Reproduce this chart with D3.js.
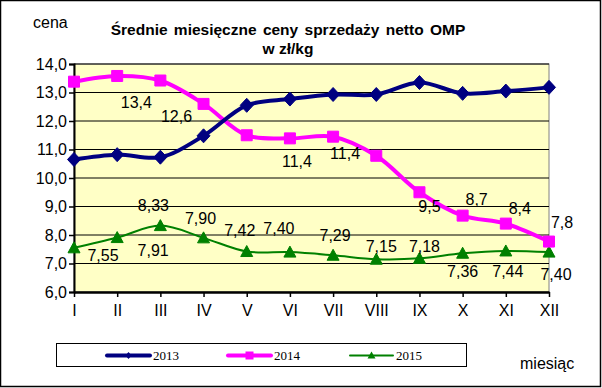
<!DOCTYPE html>
<html><head><meta charset="utf-8">
<script src="https://cdn.jsdelivr.net/npm/d3@7"></script>
<style>
html,body{margin:0;padding:0;background:#fff;}
svg{display:block;}
text{font-family:Arial,"Liberation Sans",sans-serif;}
text.serif{font-family:"Liberation Serif","Times New Roman",serif;}
</style></head>
<body><svg id="c" width="602" height="388"></svg>
<script>
const months = ["I","II","III","IV","V","VI","VII","VIII","IX","X","XI","XII"];
const s2013 = [10.65,10.82,10.73,11.48,12.55,12.77,12.93,12.93,13.35,12.97,13.05,13.18];
const s2014 = [13.38,13.58,13.42,12.6,11.5,11.39,11.45,10.78,9.5,8.68,8.4,7.77];
const s2015 = [7.55,7.91,8.33,7.90,7.42,7.40,7.29,7.15,7.18,7.36,7.44,7.40];
const lab2014 = ["","","13,4","12,6","","11,4","11,4","","9,5","8,7","8,4","7,8"];
const lab2015 = ["7,55","7,91","8,33","7,90","7,42","7,40","7,29","7,15","7,18","7,36","7,44","7,40"];
const yTicks = [6,7,8,9,10,11,12,13,14];
const seriesNames = ["2013","2014","2015"];

// label placement offsets (dx, dy) relative to point
const off2014 = [[0,0],[0,0],[-24,22],[-27,12],[0,0],[7,23],[12,17],[0,0],[10,14],[14,-16],[14,-15],[13,-19]];
const off2015 = [[29,7],[36,13],[-7,-20],[-3,-20],[-7,-21],[-11,-24],[2,-20],[5,-13],[5,-12],[0,18],[2,20],[7,22]];

const svg = d3.select("#c");
svg.append("rect").attr("x",0.5).attr("y",0.5).attr("width",600).attr("height",386)
  .attr("fill","#fff").attr("stroke","#000").attr("stroke-width",1.5);

const L=74, R=549, T=64, B=292;
const x = d3.scalePoint().domain(months).range([L,R]);
const y = d3.scaleLinear().domain([6,14]).range([B,T]);

svg.append("rect").attr("x",L).attr("y",T).attr("width",R-L).attr("height",B-T)
  .attr("fill","#FFFFC6").attr("stroke","#808080").attr("stroke-width",1);

// gridlines
svg.append("g").selectAll("line").data(yTicks.filter(d=>d>6)).join("line")
  .attr("x1",L).attr("x2",R).attr("y1",d=>y(d)).attr("y2",d=>y(d))
  .attr("stroke","#000").attr("stroke-width",1);

// y axis
const ya = svg.append("g").attr("transform",`translate(${L},0)`)
  .call(d3.axisLeft(y).tickValues(yTicks).tickSize(5).tickFormat(d=>d3.format(".1f")(d).replace(".",",")));
ya.select(".domain").attr("stroke","#000").attr("stroke-width",2);
ya.selectAll(".tick line").attr("stroke","#000").attr("stroke-width",1.5);
ya.selectAll(".tick text").attr("font-size",16).attr("fill","#000").attr("x",-7);

// x axis
const xa = svg.append("g").attr("transform",`translate(0,${B})`)
  .call(d3.axisBottom(x).tickSize(5).tickSizeOuter(0));
xa.select(".domain").attr("stroke","#000").attr("stroke-width",2.5);
xa.selectAll(".tick line").attr("stroke","#000").attr("stroke-width",1.5);
xa.selectAll(".tick text").attr("font-size",16).attr("fill","#000").attr("y",13);

const line = d3.line().x((d,i)=>x(months[i])).y(d=>y(d)).curve(d3.curveCatmullRom.alpha(0.5));

const diamond = "M0,-7L6.5,0L0,7L-6.5,0Z";
const square = "M-5.5,-5.5H5.5V5.5H-5.5Z";
const tri = "M0,-6L6,5H-6Z";

function drawSeries(vals,color,w,shape){
  svg.append("path").datum(vals).attr("d",line).attr("fill","none").attr("stroke",color).attr("stroke-width",w);
  svg.append("g").selectAll("path").data(vals).join("path")
    .attr("transform",(d,i)=>`translate(${x(months[i])},${y(d)})`)
    .attr("d",shape).attr("fill",color).attr("stroke",color).attr("stroke-width",1);
}
drawSeries(s2015,"#008000",2,tri);
drawSeries(s2014,"#FF00FF",4,square);
drawSeries(s2013,"#000080",4,diamond);

function labels(vals,labs,offs){
  svg.append("g").selectAll("text").data(vals).join("text")
    .attr("x",(d,i)=>x(months[i])+offs[i][0]).attr("y",(d,i)=>y(d)+offs[i][1])
    .attr("dy","0.36em").attr("text-anchor","middle").attr("font-size",16).attr("fill","#000")
    .text((d,i)=>labs[i]);
}
labels(s2014,lab2014,off2014);
labels(s2015,lab2015,off2015);

// titles
svg.append("text").attr("x",288).attr("y",35).attr("text-anchor","middle").attr("font-size",15.5)
  .attr("font-weight","bold").attr("word-spacing",2).text("Średnie miesięczne ceny sprzedaży netto OMP");
svg.append("text").attr("x",288).attr("y",54).attr("text-anchor","middle").attr("font-size",15.5)
  .attr("font-weight","bold").text("w zł/kg");
svg.append("text").attr("x",33).attr("y",28).attr("font-size",16).text("cena");
svg.append("text").attr("x",520).attr("y",369).attr("font-size",16).text("miesiąc");

// legend
const lg = svg.append("g");
lg.append("rect").attr("x",56.5).attr("y",343.5).attr("width",410).attr("height",23).attr("fill","#fff").attr("stroke","#000").attr("stroke-width",1);
const legX = [107,228,350];
const legC = ["#000080","#FF00FF","#008000"];
const legW = [4,4,2];
const legS = ["M0,-3.5L3,0L0,3.5L-3,0Z","M-4,-4H4V4H-4Z","M0,-4L4,3H-4Z"];
seriesNames.forEach((n,i)=>{
  const g = lg.append("g").attr("transform",`translate(${legX[i]},355.5)`);
  g.append("line").attr("x1",0).attr("x2",43).attr("stroke",legC[i]).attr("stroke-width",legW[i]).attr("stroke-linecap","round");
  g.append("path").attr("transform","translate(21.5,0)").attr("d",legS[i]).attr("fill",legC[i]);
  g.append("text").attr("class","serif").attr("x",46).attr("y",4.5).attr("font-size",13).text(n);
});
</script></body></html>
